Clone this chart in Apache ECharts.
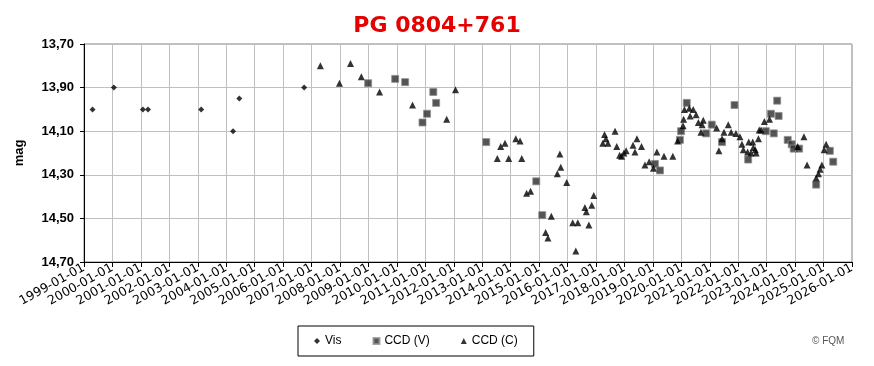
<!DOCTYPE html>
<html><head><meta charset="utf-8">
<script src="https://cdn.jsdelivr.net/npm/echarts@6/dist/echarts.min.js"></script>
<style>html,body{margin:0;padding:0;background:#fff}#c{width:874px;height:366px}</style>
</head><body><div id="c"></div>
<script>
var titleText = 'PG 0804+761';
var yTicks = [13.7, 13.9, 14.1, 14.3, 14.5, 14.7];
var xYearMin = 1999, xYearMax = 2026;
// [decimal year, magnitude]
var visData = [[1999.30,14.00],[2000.05,13.90],[2001.07,14.00],[2001.25,14.00],[2003.12,14.00],[2004.24,14.10],[2004.46,13.95],[2006.74,13.90]];
var ccdVData = [[2008.99,13.88],[2009.94,13.86],[2010.29,13.875],[2011.28,13.92],[2011.38,13.97],[2011.06,14.02],[2010.90,14.06],
 [2013.14,14.15],[2014.90,14.33],[2015.11,14.485],
 [2019.07,14.25],[2019.25,14.28],[2019.95,14.14],[2019.99,14.10],[2020.19,13.97],[2020.87,14.11],[2021.07,14.07],
 [2021.87,13.98],[2021.43,14.15],[2022.35,14.23],[2022.97,14.10],[2023.15,14.02],[2023.37,13.96],[2023.42,14.03],[2023.25,14.11],
 [2023.74,14.14],[2023.88,14.16],[2023.95,14.18],[2024.14,14.18],[2024.74,14.345],[2025.22,14.19],[2025.34,14.24]];
var ccdCData = [[2007.31,13.80],[2007.98,13.88],[2008.37,13.79],[2008.75,13.85],[2009.39,13.92],[2010.55,13.98],[2011.75,14.045],[2012.06,13.91],
 [2013.80,14.155],[2013.65,14.17],[2013.53,14.225],[2013.93,14.225],[2014.18,14.135],[2014.33,14.145],[2014.39,14.225],[2014.56,14.385],[2014.70,14.375],
 [2015.43,14.49],[2015.23,14.565],[2015.31,14.59],[2015.73,14.205],[2015.76,14.265],[2015.64,14.295],[2015.97,14.335],
 [2016.92,14.395],[2016.61,14.45],[2016.85,14.44],[2016.66,14.47],[2016.18,14.52],[2016.36,14.52],[2016.75,14.53],[2016.29,14.65],
 [2017.67,14.10],[2017.30,14.115],[2017.35,14.135],[2017.24,14.155],[2017.42,14.155],[2017.73,14.17],[2018.06,14.19],[2017.98,14.20],[2017.83,14.21],[2017.90,14.215],
 [2018.44,14.135],[2018.30,14.165],[2018.60,14.17],[2018.37,14.195],[2019.14,14.195],[2019.39,14.215],[2019.70,14.215],[2018.87,14.24],[2018.72,14.255],[2019.02,14.27],
 [2019.87,14.145],[2020.06,14.075],[2020.08,14.045],[2020.11,14.00],[2020.28,13.995],[2020.42,14.00],[2020.52,14.025],[2020.31,14.03],[2020.60,14.06],[2020.77,14.05],[2020.73,14.07],[2020.69,14.105],
 [2021.24,14.085],[2021.65,14.07],[2021.50,14.105],[2021.75,14.105],[2021.43,14.135],[2021.32,14.19],[2021.92,14.11],[2022.06,14.125],[2022.13,14.16],[2022.18,14.185],
 [2022.37,14.15],[2022.51,14.15],[2022.33,14.195],[2022.53,14.175],[2022.60,14.185],[2022.45,14.20],[2022.63,14.20],[2022.71,14.135],[2022.74,14.095],[2022.80,14.095],[2022.92,14.055],[2023.10,14.045],
 [2024.09,14.17],[2024.31,14.125],[2024.42,14.255],[2024.94,14.255],[2024.88,14.275],[2024.82,14.295],[2024.74,14.315],[2025.09,14.16],[2025.02,14.185]];
var seriesNames = ['Vis', 'CCD (V)', 'CCD (C)'];

var chart = echarts.init(document.getElementById('c'), null, {renderer: 'canvas'});
chart.setOption({
  animation: false,
  backgroundColor: '#fff',
  title: {text: titleText, left: 'center', top: 10,
    textStyle: {color: '#e60000', fontSize: 22, fontWeight: 'bold', fontFamily: 'DejaVu Sans'}},
  grid: {left: 84, right: 22, top: 44, bottom: 104, show: true, borderColor: '#808080', borderWidth: 1},
  legend: {left: 298, top: 326, orient: 'horizontal', itemGap: 31, itemWidth: 6, itemHeight: 6,
    padding: [9, 16, 9, 16], borderColor: '#000', borderWidth: 1,
    textStyle: {fontFamily: 'Liberation Sans', fontSize: 12, color: '#000'},
    data: seriesNames},
  graphic: [{type: 'text', left: 812, top: 336, style: {text: '© FQM', fill: '#555', font: '10px "Liberation Sans"'}}],
  xAxis: {type: 'value', min: xYearMin, max: xYearMax, interval: 1,
    axisLine: {show: true, lineStyle: {color: '#000', width: 1}},
    axisTick: {show: true, length: 5, lineStyle: {color: '#000'}},
    splitLine: {show: true, lineStyle: {color: '#c0c0c0', width: 1}},
    axisLabel: {rotate: 29, margin: 5, color: '#000', fontFamily: 'DejaVu Sans', fontSize: 12.5,
      showMinLabel: true, showMaxLabel: true, hideOverlap: false,
      formatter: function (v) { return Math.round(v) + '-01-01'; }}},
  yAxis: {type: 'value', inverse: true, min: 13.7, max: 14.7, interval: 0.2,
    name: 'mag', nameLocation: 'middle', nameGap: 58, nameRotate: 90,
    nameTextStyle: {fontFamily: 'Liberation Sans', fontWeight: 'bold', fontSize: 13, color: '#000'},
    axisLine: {show: true, lineStyle: {color: '#000', width: 1}},
    axisTick: {show: true, length: 4, lineStyle: {color: '#000'}},
    splitLine: {show: true, lineStyle: {color: '#c0c0c0', width: 1}},
    axisLabel: {margin: 10, color: '#000', fontFamily: 'Liberation Sans', fontWeight: 'bold', fontSize: 13,
      formatter: function (v) { return v.toFixed(2).replace('.', ','); }}},
  series: [
    {name: seriesNames[0], type: 'scatter', symbol: 'diamond', symbolSize: 6, data: visData,
      itemStyle: {color: '#000'}},
    {name: seriesNames[1], type: 'scatter', symbol: 'rect', symbolSize: 7, data: ccdVData,
      itemStyle: {color: '#2a2a2a', borderColor: '#909090', borderWidth: 1}},
    {name: seriesNames[2], type: 'scatter', symbol: 'triangle', symbolSize: 7, data: ccdCData,
      itemStyle: {color: '#000', borderWidth: 0}}
  ]
});
</script></body></html>
